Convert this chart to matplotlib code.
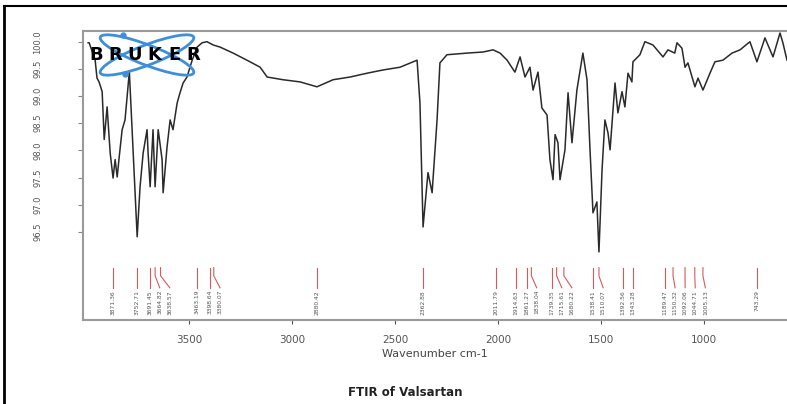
import matplotlib
matplotlib.use("Agg")
import matplotlib.pyplot as plt
from matplotlib.patches import Ellipse
from matplotlib.lines import Line2D

# ---------------- data ----------------
wavenumber = [3990, 3985, 3956, 3947, 3937, 3922, 3912, 3898, 3883, 3869, 3859, 3849,
              3840, 3825, 3811, 3801, 3790, 3752, 3738, 3723, 3704, 3699, 3689, 3675,
              3665, 3650, 3631, 3626, 3607, 3592, 3578, 3558, 3544, 3529, 3510, 3485,
              3461, 3437, 3413, 3383, 3349, 3286, 3204, 3155, 3121, 3044, 2961, 2879,
              2801, 2718, 2636, 2558, 2476, 2393, 2379, 2364, 2340, 2320, 2296, 2282,
              2248, 2151, 2073, 2024, 1990, 1956, 1918, 1893, 1869, 1845, 1830, 1806,
              1787, 1762, 1748, 1733, 1723, 1709, 1699, 1675, 1660, 1641, 1617, 1588,
              1568, 1554, 1539, 1520, 1510, 1495, 1481, 1466, 1456, 1432, 1418, 1398,
              1384, 1369, 1350, 1345, 1311, 1287, 1248, 1199, 1175, 1142, 1131, 1107,
              1092, 1078, 1044, 1029, 1005, 971, 947, 908, 864, 825, 777, 743, 704,
              665, 631, 617, 597]
transmittance = [99.98, 99.98, 99.66, 99.33, 99.26, 99.08, 98.20, 98.80, 97.95, 97.49, 97.83, 97.51,
                 97.85, 98.38, 98.56, 98.98, 99.45, 96.41, 97.33, 97.95, 98.38, 97.95, 97.33, 98.38,
                 97.33, 98.38, 97.83, 97.22, 98.06, 98.56, 98.38, 98.87, 99.06, 99.24, 99.35, 99.66,
                 99.90, 99.98, 100.00, 99.94, 99.90, 99.79, 99.63, 99.53, 99.35, 99.30, 99.26, 99.17,
                 99.30, 99.35, 99.42, 99.48, 99.53, 99.66, 98.87, 96.59, 97.59, 97.22, 98.56, 99.61,
                 99.76, 99.79, 99.81, 99.85, 99.79, 99.66, 99.44, 99.72, 99.35, 99.53, 99.11, 99.44,
                 98.78, 98.65, 97.83, 97.46, 98.29, 98.14, 97.46, 98.01, 99.06, 98.14, 99.11, 99.79,
                 99.30, 98.06, 96.85, 97.05, 96.13, 97.64, 98.56, 98.32, 98.01, 99.24, 98.69, 99.08,
                 98.80, 99.42, 99.26, 99.63, 99.76, 100.00, 99.94, 99.72, 99.85, 99.79, 99.98, 99.88,
                 99.53, 99.61, 99.17, 99.33, 99.11, 99.42, 99.63, 99.66, 99.79, 99.85, 100.00, 99.63, 100.07,
                 99.72, 100.16, 99.98, 99.66]

peak_wn = [3871.36, 3752.71, 3691.45, 3664.82, 3638.57, 3463.19, 3398.64, 3380.07,
           2880.42, 2362.88, 2011.79, 1914.63, 1861.27, 1838.04, 1739.35, 1715.61,
           1680.22, 1538.41, 1510.07, 1392.56, 1343.28, 1189.47, 1150.32, 1092.06,
           1044.71, 1005.13, 743.29]
peak_labels = [f"{p:.2f}" for p in peak_wn]

xticks = [3500, 3000, 2500, 2000, 1500, 1000]
yticks = [96.5, 97.0, 97.5, 98.0, 98.5, 99.0, 99.5, 100.0]

# ---------------- figure ----------------
W, H = 787, 404
fig = plt.figure(figsize=(W / 100, H / 100), dpi=100)
fig.patch.set_facecolor("white")

ax = fig.add_axes([83 / W, (H - 320) / H, 704 / W, 289 / H])
ax.plot(wavenumber, transmittance, color="#2a2a2a", lw=1.1)
ax.set_xlim(4015, 597)
ax.set_ylim(94.877, 100.197)

ax.set_xticks(xticks)
ax.set_xticklabels([str(t) for t in xticks], fontsize=7.5, color="#555555")
ax.set_yticks(yticks)
ax.set_yticklabels([f"{t:.1f}" for t in yticks], fontsize=6, color="#555555",
                   rotation=90, va="center")
ax.tick_params(axis="y", length=3.5, pad=26, color="#888888")
ax.tick_params(axis="x", length=3, pad=8, color="#555555")
for s in ("left", "top", "bottom"):
    ax.spines[s].set_color("#9a9a9a")
    ax.spines[s].set_linewidth(1.5)
ax.spines["right"].set_visible(False)
ax.set_xlabel("Wavenumber cm-1", fontsize=8, color="#444444", labelpad=3)

# peak markers with de-overlapped labels
min_gap = 49.0
label_pos = []
for p in peak_wn:
    if label_pos:
        label_pos.append(min(p, label_pos[-1] - min_gap))
    else:
        label_pos.append(p)
for p, lp, txt in zip(peak_wn, label_pos, peak_labels):
    ax.plot([p, p, lp], [95.84, 95.69, 95.47], color="#d65a5a", lw=0.8)
    ax.text(lp, 95.43, txt, rotation=90, ha="center", va="top",
            fontsize=4.3, color="#555555")

# Bruker logo
lax = fig.add_axes([85 / W, (H - 80) / H, 120 / W, 50 / H])
lax.set_xlim(0, 120)
lax.set_ylim(0, 50)
lax.axis("off")
lax.patch.set_alpha(0)
for ang in (21, -21):
    lax.add_patch(Ellipse((62, 25), 100, 20, angle=ang, fill=False,
                          edgecolor="#3d8fd9", lw=2))
lax.plot([38, 40], [45, 6], "o", color="#3d8fd9", ms=3.5)
for i, ch in enumerate("BRUKER"):
    lax.text(11 + i * 19.5, 25, ch, ha="center", va="center", fontsize=13,
             fontweight="heavy", color="black")

# outer frame
fig.add_artist(Line2D([4 / W, 4 / W], [0, 1 - 6 / H], transform=fig.transFigure,
                      color="black", lw=2))
fig.add_artist(Line2D([4 / W, 1], [1 - 6 / H, 1 - 6 / H], transform=fig.transFigure,
                      color="black", lw=1.5))

fig.text(405 / W, 1 - 392 / H, "FTIR of Valsartan", ha="center", va="center",
         fontsize=8.5, fontweight="bold", color="#222222")

fig.savefig("out.png", dpi=100)
